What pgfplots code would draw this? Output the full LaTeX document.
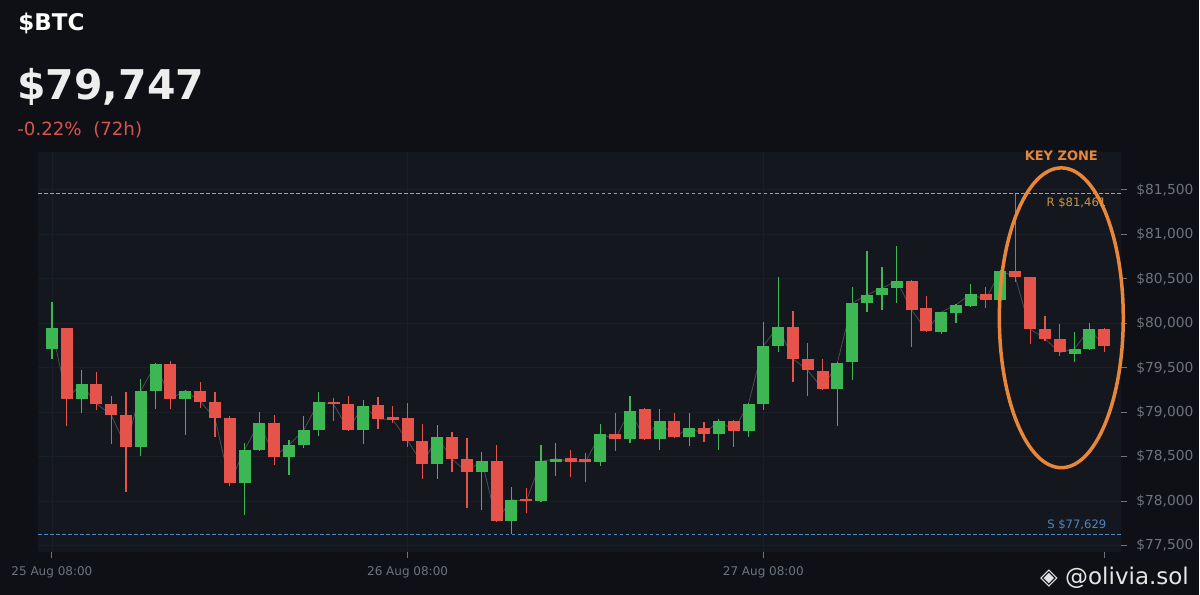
\documentclass[border=0pt]{standalone}
\usepackage{pgfplots}
\pgfplotsset{compat=1.18}
\usepackage{pgfplotstable}
\usepackage{fontspec}
\setmainfont{DejaVu Sans}

\definecolor{pagebg}{HTML}{0E1016}
\definecolor{plotbg}{HTML}{14171E}
\definecolor{gridc}{HTML}{1A1E26}
\definecolor{tickc}{HTML}{6E737C}
\definecolor{cgreen}{HTML}{3DB753}
\definecolor{cred}{HTML}{E5534B}
\definecolor{rescol}{HTML}{D39A3E}
\definecolor{supcol}{HTML}{4F86C6}
\definecolor{zonecol}{HTML}{E8873A}
\definecolor{chgred}{HTML}{D9534F}

% hourly candles, 25 Aug 08:00 -> 28 Aug 07:00
\pgfplotstableread{
t o h l c
0 79710 80245 79601 79946
1 79946 79950 78852 79152
2 79152 79478 78998 79317
3 79317 79458 79028 79096
4 79096 79178 78643 78972
5 78972 79227 78099 78609
6 78609 79380 78511 79242
7 79242 79560 79036 79542
8 79542 79582 79036 79152
9 79152 79250 78747 79242
10 79242 79346 79047 79121
11 79121 79227 78728 78935
12 78935 78960 78174 78204
13 78204 78654 77845 78579
14 78579 79002 78560 78885
15 78885 78964 78410 78503
16 78503 78691 78294 78631
17 78631 78961 78600 78803
18 78803 79227 78736 79115
19 79121 79160 78904 79092
20 79092 79185 78785 78803
21 78803 79133 78643 79076
22 79076 79178 78811 78924
23 78940 79065 78879 78918
24 78935 79110 78609 78680
25 78680 78871 78249 78421
26 78421 78860 78249 78721
27 78721 78773 78324 78474
28 78474 78710 77924 78328
29 78328 78548 77904 78458
30 78458 78627 77770 77781
31 77781 78166 77629 78017
32 78028 78148 77874 78000
33 78000 78627 77990 78447
34 78440 78654 78287 78477
35 78485 78571 78272 78447
36 78477 78541 78216 78440
37 78440 78867 78399 78758
38 78758 78991 78571 78699
39 78699 79185 78654 79020
40 79036 79050 78690 78702
41 78702 79039 78579 78904
42 78904 78991 78710 78721
43 78721 78991 78624 78823
44 78823 78885 78665 78758
45 78758 78923 78579 78904
46 78904 78910 78607 78795
47 78795 79110 78728 79096
48 79096 80020 79028 79747
49 79747 80519 79683 79964
50 79964 80144 79346 79601
51 79601 79777 79185 79470
52 79470 79598 79250 79264
53 79264 79570 78852 79560
54 79560 80414 79365 80227
55 80227 80818 80133 80320
56 80320 80638 80152 80395
57 80395 80871 80234 80478
58 80478 80490 79739 80152
59 80170 80309 79905 79916
60 79905 80130 79879 80126
61 80115 80215 80002 80208
62 80190 80440 80180 80331
63 80331 80414 80171 80264
64 80264 80600 80200 80594
65 80594 81461 80470 80519
66 80519 80525 79770 79935
67 79935 80084 79803 79826
68 79826 79994 79635 79672
69 79660 79901 79571 79713
70 79713 80009 79705 79938
71 79938 79945 79683 79747
}\btc

\begin{document}
\begin{tikzpicture}
\begin{scope}[x=0.5pt,y=0.5pt]
  \fill[pagebg] (0,0) rectangle (1200,595);
  \useasboundingbox (0,0) rectangle (1200,595);
\end{scope}

\begin{axis}[
    at={(19pt,21.5pt)}, anchor=south west,
    scale only axis, width=542pt, height=200pt,
    xmin=-0.94, xmax=72.15, ymin=77433, ymax=81927,
    axis background/.style={fill=plotbg},
    axis line style={draw=none},
    clip=false,
    ymajorgrids, xmajorgrids,
    grid style={gridc, line width=0.4pt},
    ytick={77500,78000,...,81500},
    scaled y ticks=false,
    yticklabel pos=right, ytick pos=right,
    xtick={0,24,48}, xtick pos=bottom,
    xticklabels={25 Aug 08:00, 26 Aug 08:00, 27 Aug 08:00},
    extra x ticks={71}, extra x tick labels={},
    extra x tick style={grid=none},
    tick align=outside,
    major tick length=3pt,
    tick style={tickc, line width=0.5pt},
    yticklabel={\$\pgfmathprintnumber{\tick}},
    /pgf/number format/.cd, fixed, precision=0, 1000 sep={,}, assume math mode=true,
    /pgfplots/.cd,
    y tick label style={font=\fontsize{6.9}{8}\selectfont, text=tickc, xshift=1pt},
    x tick label style={font=\fontsize{6}{7}\selectfont, text=tickc, yshift=-1pt},
  ]

  % faint close line
  \addplot[gray!60, opacity=0.35, line width=0.4pt, mark=none, forget plot]
    table[x=t, y=c] {\btc};

  % wicks
  \addplot[draw=none, mark=none, forget plot,
    error bars/.cd, y dir=both, y explicit, error mark=none,
    error bar style={draw=cgreen, line width=0.6pt}]
    table[x=t, y expr={\thisrow{c}>=\thisrow{o} ? (\thisrow{h}+\thisrow{l})/2 : nan},
          y error expr={(\thisrow{h}-\thisrow{l})/2}] {\btc};
  \addplot[draw=none, mark=none, forget plot,
    error bars/.cd, y dir=both, y explicit, error mark=none,
    error bar style={draw=cred, line width=0.6pt}]
    table[x=t, y expr={\thisrow{c}<\thisrow{o} ? (\thisrow{h}+\thisrow{l})/2 : nan},
          y error expr={(\thisrow{h}-\thisrow{l})/2}] {\btc};

  % bodies
  \addplot[draw=none, mark=none, forget plot,
    error bars/.cd, y dir=both, y explicit, error mark=none,
    error bar style={draw=cgreen, line width=6pt}]
    table[x=t, y expr={\thisrow{c}>=\thisrow{o} ? (\thisrow{o}+\thisrow{c})/2 : nan},
          y error expr={max(abs(\thisrow{c}-\thisrow{o})/2, 14)}] {\btc};
  \addplot[draw=none, mark=none, forget plot,
    error bars/.cd, y dir=both, y explicit, error mark=none,
    error bar style={draw=cred, line width=6pt}]
    table[x=t, y expr={\thisrow{c}<\thisrow{o} ? (\thisrow{o}+\thisrow{c})/2 : nan},
          y error expr={max(abs(\thisrow{c}-\thisrow{o})/2, 14)}] {\btc};

  % resistance and support
  \addplot[rescol, dash pattern=on 1.9pt off 1.1pt, line width=0.7pt, mark=none, forget plot]
    coordinates {(-0.94,81461) (72.15,81461)};
  \addplot[supcol, dash pattern=on 1.9pt off 1.1pt, line width=0.7pt, mark=none, forget plot]
    coordinates {(-0.94,77629) (72.15,77629)};
  \node[anchor=north east, inner sep=1pt, text=rescol!85!gray,
        font=\fontsize{5.8}{6}\selectfont] at (axis cs:71.3,81440) {R \$81,461};
  \node[anchor=south east, inner sep=1pt, text=supcol,
        font=\fontsize{5.8}{6}\selectfont] at (axis cs:71.3,77650) {S \$77,629};
\end{axis}

\begin{scope}[x=0.5pt,y=0.5pt]
  % header
  \node[anchor=base west, inner sep=0pt, text=white,
        font=\fontsize{11.5}{13}\selectfont\bfseries] at (18,564) {\$BTC};
  \node[anchor=base west, inner sep=0pt, text=white!93!black,
        font=\fontsize{20.5}{24}\selectfont\bfseries] at (17,495) {\$79,747};
  \node[anchor=base west, inner sep=0pt, text=chgred,
        font=\fontsize{9.1}{11}\selectfont] at (17,459) {-0.22\%\ \ (72h)};
  % key zone
  \draw[zonecol, line width=1.75pt] (1062,277) ellipse [x radius=31pt, y radius=75pt];
  \node[anchor=base, inner sep=0pt, text=zonecol,
        font=\fontsize{6.5}{8}\selectfont\bfseries] at (1062,434) {KEY ZONE};
  % watermark
  \node[anchor=base east, inner sep=0pt, text=white!90!black,
        font=\fontsize{11.5}{13}\selectfont] at (1190,10) {◈ @olivia.sol};
\end{scope}
\end{tikzpicture}
\end{document}
